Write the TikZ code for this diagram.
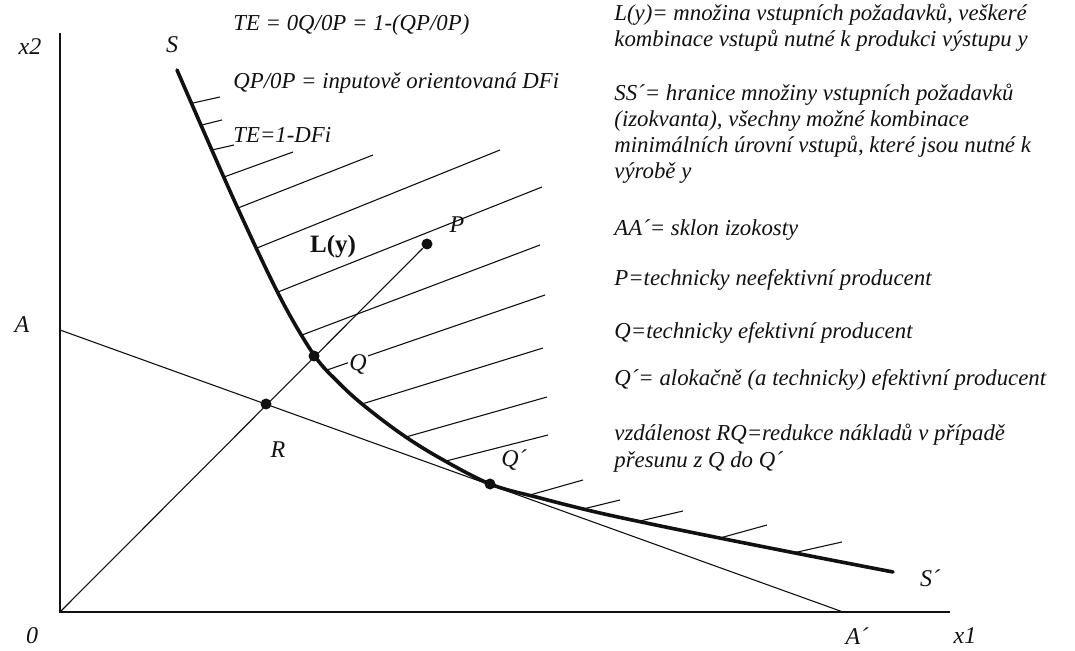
\documentclass[tikz,border=0pt]{standalone}
\usepackage{fontspec}
\setmainfont{Liberation Serif}
\usetikzlibrary{positioning}
\definecolor{inkblack}{HTML}{111111}

\tikzset{
  osa/.style={draw=inkblack, line width=1pt},
  izokvanta/.style={draw=inkblack, line width=1.8pt, line cap=round},
  tenka/.style={draw=inkblack, line width=0.55pt},
  bod/.style={circle, fill=inkblack, inner sep=0pt, minimum size=5.5pt},
  popis/.style={font=\fontsize{12}{14}\selectfont\itshape, text=inkblack, inner sep=1pt},
  legenda/.style={font=\fontsize{11.4}{13}\selectfont\itshape, text=inkblack, anchor=base west, inner sep=0pt}
}

\begin{document}
\begin{tikzpicture}[x=0.5pt, y=-0.5pt]
  \useasboundingbox (0,0) rectangle (1075,651);

  % Osy
  \coordinate (O) at (60,612);
  \coordinate (osaY) at (60,33);
  \coordinate (osaX) at (950,612);
  \draw[osa] (osaY) -- (O) -- (osaX);
  \node[popis] (x2) at (30,47) {x2};
  \node[popis] (x1) at (965,636) {x1};
  \node[popis] (nula) at (32,636) {0};

  % Izokosta AA´
  \coordinate (A) at (60,330);
  \coordinate (Ac) at (843,612);
  \draw[tenka] (A) -- (Ac);
  \node[popis] (lblA) at (22,325) {A};
  \node[popis] (lblAc) at (857,636) {A´};

  % Izokvanta SS´
  \draw[izokvanta] plot[smooth, tension=0.55] coordinates {(177,70) (234,200) (280,297) (314,355) (338,382) (362,404) (400,433) (438,457) (490,484) (540,498) (600,513) (680,530) (790,552) (893,572)};
  \node[popis] (lblS) at (172,45) {S};
  \node[popis] (lblSc) at (930,578) {S´};

  % Šrafování množiny L(y)
  \foreach \xa/\ya/\xb/\yb in {193/103/220/97, 202/125/222/120, 212/150/234/145, 224/177/293/152, 238/208/373/155, 257/248/500/150, 278/292/542/187, 302/335/540/245, 327/370/545/295, 362/404/543/348, 406/437/547/397, 446/461/548/435, 530/495/583/480, 583/509/620/500, 640/521/683/511, 720/538/767/525, 793/553/842/542}
    \draw[tenka] (\xa,\ya) -- (\xb,\yb);

  % Paprsek z 0 a body
  \node[bod] (P) at (427,244) {};
  \node[bod] (Q) at (314,356) {};
  \node[bod] (R) at (266,404) {};
  \node[bod] (Qc) at (490,484) {};
  \draw[tenka] (O) -- (P);
  \node[popis] (lblP) at (457,225) {P};
  \node[popis, fill=white, inner sep=0.5pt] (lblQ) at (358,365) {Q};
  \node[popis] (lblR) at (278,450) {R};
  \node[popis] (lblQc) at (514,460) {Q´};
  \node[font=\fontsize{12.5}{14}\selectfont\bfseries, text=inkblack] (Ly) at (333,247) {L(y)};

  % Vzorce
  \node[legenda] (te) at (233,31) {TE = 0Q/0P = 1-(QP/0P)};
  \node[legenda] (dfi) at (233,89) {QP/0P = inputově orientovaná DFi};
  \node[legenda] (te2) at (233,143) {TE=1-DFi};

  % Legenda
  \foreach \y/\radek in {21/{L(y)= množina vstupních požadavků, veškeré},
                         47/{kombinace vstupů nutné k produkci výstupu y},
                         101/{SS´= hranice množiny vstupních požadavků},
                         127/{(izokvanta), všechny možné kombinace},
                         153/{minimálních úrovní vstupů, které jsou nutné k},
                         179/{výrobě y},
                         236/{AA´= sklon izokosty},
                         286/{P=technicky neefektivní producent},
                         339/{Q=technicky efektivní producent},
                         386/{Q´= alokačně (a technicky) efektivní producent},
                         441/{vzdálenost RQ=redukce nákladů v případě},
                         467/{přesunu z Q do Q´}}
    \node[legenda] (leg\y) at (614,\y) {\radek};
\end{tikzpicture}
\end{document}
